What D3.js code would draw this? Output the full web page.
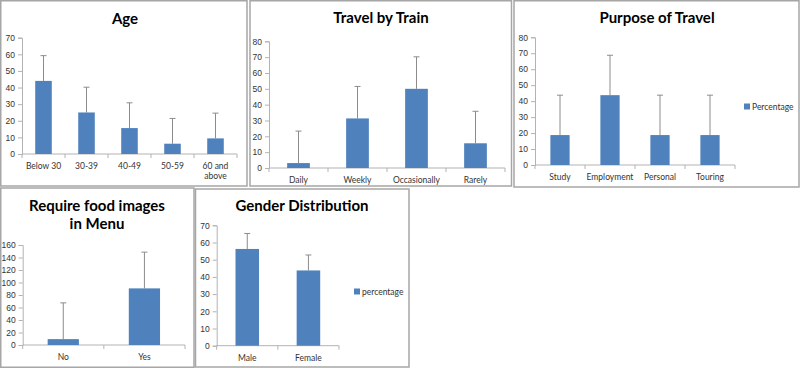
<!DOCTYPE html>
<html>
<head>
<meta charset="utf-8">
<script src="https://cdn.jsdelivr.net/npm/d3@7"></script>
<style>
  body { margin: 0; background: #fff; }
  svg { display: block; font-family: Lato, "Open Sans", sans-serif; }
  .title { font-weight: bold; font-size: 15px; fill: #000; }
  .tick text, .xlab, .legend text { font-size: 8.5px; fill: #333; }
</style>
</head>
<body>
<svg width="800" height="368"></svg>
<script>
// chart data
const ageCats = ['Below 30', '30-39', '40-49', '50-59', '60 and above']
const ageValues = [44, 25, 15.6, 6.2, 9.4]
const ageErrors = [15.2, 15.2, 15.2, 15.2, 15.2]

const trainCats = ['Daily', 'Weekly', 'Occasionally', 'Rarely']
const trainValues = [3.1, 31.3, 50, 15.6]
const trainErrors = [20.2, 20.2, 20.2, 20.2]

const purposeCats = ['Study', 'Employment', 'Personal', 'Touring']
const purposeValues = [18.75, 43.75, 18.75, 18.75]
const purposeErrors = [25, 25, 25, 25]

const foodCats = ['No', 'Yes']
const foodValues = [9.4, 90.6]
const foodErrors = [58, 58]

const genderCats = ['Male', 'Female']
const genderValues = [56.25, 43.75]
const genderErrors = [9, 9]

const svg = d3.select('svg')
const barColor = '#4f81bd'

function panel(o) {
	const g = svg.append('g')

	// frame
	g.append('rect')
		.attr('x', o.box[0]).attr('y', o.box[1])
		.attr('width', o.box[2] - o.box[0]).attr('height', o.box[3] - o.box[1])
		.attr('fill', '#fff').attr('stroke', '#a6a6a6').attr('stroke-width', 1.5)

	// title
	o.title.forEach((t, i) => {
		g.append('text').attr('class', 'title')
			.attr('x', o.titleX).attr('y', o.titleY + i * 18)
			.attr('text-anchor', 'middle').text(t)
	})

	const x = d3.scaleBand().domain(o.cats).range([o.left, o.right]).paddingInner(0).paddingOuter(0)
	const y = d3.scaleLinear().domain([0, o.max]).range([o.bottom, o.top])

	const yAxis = d3.axisLeft(y).tickValues(d3.range(0, o.max + 1, o.step)).tickSize(4).tickPadding(3)
	const ya = g.append('g').attr('transform', `translate(${o.left},0)`).call(yAxis)
	ya.select('.domain').attr('stroke', '#b3b3b3')
	ya.selectAll('.tick line').attr('stroke', '#b3b3b3')
	ya.selectAll('.tick text').attr('font-family', null)

	// x axis line with boundary ticks
	g.append('line').attr('x1', o.left).attr('x2', o.right)
		.attr('y1', o.bottom).attr('y2', o.bottom).attr('stroke', '#b3b3b3')
	const bounds = o.cats.map(c => x(c)).concat([o.right])
	g.selectAll('.xt').data(bounds).join('line')
		.attr('x1', d => d).attr('x2', d => d)
		.attr('y1', o.bottom).attr('y2', o.bottom + 4).attr('stroke', '#b3b3b3')

	// category labels, wrapped when wider than band
	o.cats.forEach(c => {
		const words = c.split(' ')
		const lines = []
		let cur = ''
		words.forEach(w => {
			const test = cur ? cur + ' ' + w : w
			if (test.length * 4.4 > x.bandwidth() * 0.95 && cur) { lines.push(cur); cur = w }
			else cur = test
		})
		lines.push(cur)
		lines.forEach((l, i) => {
			g.append('text').attr('class', 'xlab')
				.attr('x', x(c) + x.bandwidth() / 2).attr('y', o.bottom + 15 + i * 10)
				.attr('text-anchor', 'middle').text(l)
		})
	})

	const bw = x.bandwidth() * 0.385
	const data = o.cats.map((c, i) => ({c, v: o.values[i], e: o.errors[i]}))

	// error bars (plus only), drawn behind bars
	g.selectAll('.err').data(data).join('path')
		.attr('d', d => {
			const cx = x(d.c) + x.bandwidth() / 2
			const yt = y(d.v + d.e)
			return `M${cx},${y(d.v)}V${yt}M${cx - 3},${yt}H${cx + 3}`
		})
		.attr('stroke', '#8c8c8c').attr('stroke-width', 1).attr('fill', 'none')

	g.selectAll('.bar').data(data).join('rect')
		.attr('x', d => x(d.c) + (x.bandwidth() - bw) / 2)
		.attr('y', d => y(d.v))
		.attr('width', bw)
		.attr('height', d => y(0) - y(d.v))
		.attr('fill', barColor)

	if (o.legend) {
		const lg = g.append('g').attr('class', 'legend')
			.attr('transform', `translate(${o.legend[0]},${o.legend[1]})`)
		lg.append('rect').attr('x', 0).attr('y', -3.5).attr('width', 6).attr('height', 6).attr('fill', barColor)
		lg.append('text').attr('x', 8).attr('y', 3).text(o.legend[2])
	}
}

panel({box: [0.75, 0.75, 247, 186], title: ['Age'], titleX: 125, titleY: 24,
	left: 22, right: 237, top: 37.7, bottom: 154, max: 70, step: 10,
	cats: ageCats, values: ageValues, errors: ageErrors})

panel({box: [250, 0.75, 511.5, 186], title: ['Travel by Train'], titleX: 381, titleY: 23,
	left: 269, right: 505, top: 41.3, bottom: 168, max: 80, step: 10,
	cats: trainCats, values: trainValues, errors: trainErrors})

panel({box: [514, 0.75, 799, 187], title: ['Purpose of Travel'], titleX: 657, titleY: 23,
	left: 535, right: 735, top: 37.3, bottom: 165, max: 80, step: 10,
	cats: purposeCats, values: purposeValues, errors: purposeErrors,
	legend: [744, 107, 'Percentage']})

panel({box: [0.75, 188, 194, 367.25], title: ['Require food images', 'in Menu'], titleX: 97, titleY: 211,
	left: 22.7, right: 185, top: 245, bottom: 345, max: 160, step: 20,
	cats: foodCats, values: foodValues, errors: foodErrors})

panel({box: [195.5, 189, 409, 367], title: ['Gender Distribution'], titleX: 302, titleY: 211,
	left: 216.7, right: 339, top: 225.3, bottom: 345.7, max: 70, step: 10,
	cats: genderCats, values: genderValues, errors: genderErrors,
	legend: [354, 292, 'percentage']})
</script>
</body>
</html>
